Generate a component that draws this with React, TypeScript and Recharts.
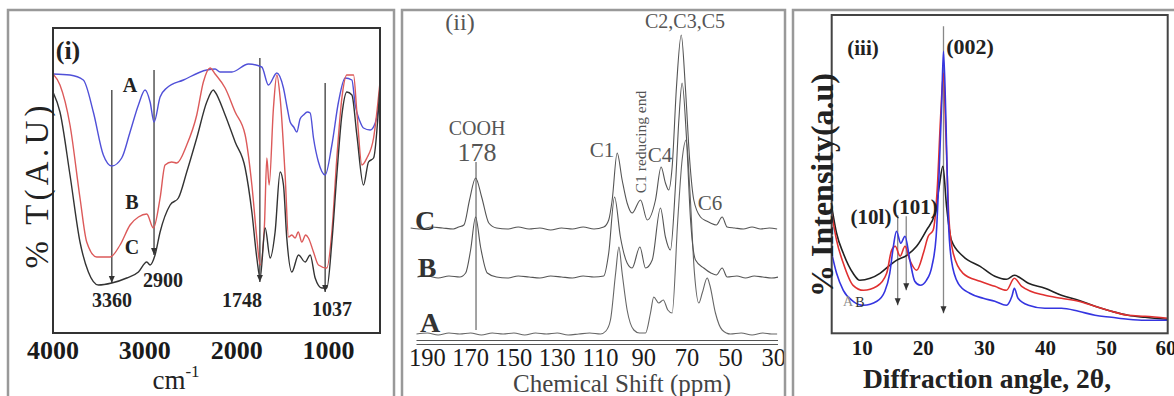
import React from 'react';
import { LineChart, Line, XAxis, YAxis, ReferenceLine, ReferenceDot } from 'recharts';

// ---------- Panel (i) FTIR: [wavenumber cm-1, transmittance a.u.] ----------
const FTIR_A: [number, number][] = [
  [4000, 259], [3815, 258], [3670, 253], [3561, 221], [3452, 178], [3360, 167], [3252, 175],
  [3161, 201], [3070, 228], [2998, 243], [2943, 231], [2900, 211], [2834, 236], [2762, 245],
  [2580, 253], [2326, 263], [2235, 264], [2181, 261], [2053, 261], [1872, 269], [1727, 266],
  [1655, 248], [1563, 260], [1491, 245], [1450, 225], [1418, 211], [1380, 206], [1345, 201],
  [1310, 214], [1273, 218], [1230, 221], [1200, 220], [1164, 195], [1110, 171], [1037, 158],
  [964, 188], [892, 231], [819, 255], [746, 253], [710, 228], [660, 212], [620, 205],
  [547, 203], [492, 210], [440, 231],
];
const FTIR_B: [number, number][] = [
  [4000, 259], [3924, 248], [3815, 208], [3706, 135], [3633, 91], [3524, 76], [3379, 76],
  [3270, 88], [3161, 108], [3070, 116], [2979, 119], [2907, 105], [2834, 135], [2780, 168],
  [2707, 171], [2652, 170], [2544, 188], [2435, 218], [2363, 251], [2290, 265], [2235, 259],
  [2126, 245], [2017, 221], [1908, 198], [1835, 148], [1781, 95], [1745, 68], [1698, 108],
  [1672, 175], [1647, 148], [1600, 225], [1563, 258], [1527, 235], [1473, 158], [1436, 96],
  [1400, 98], [1364, 95], [1330, 101], [1291, 91], [1250, 98], [1219, 95], [1164, 81],
  [1110, 68], [1019, 65], [964, 101], [910, 175], [855, 235], [801, 258], [728, 258],
  [692, 221], [637, 168], [583, 175], [510, 195], [440, 251],
];
const FTIR_C: [number, number][] = [
  [4000, 241], [3924, 221], [3815, 158], [3706, 91], [3615, 61], [3506, 48], [3360, 50],
  [3197, 55], [3070, 61], [2979, 71], [2943, 68], [2889, 78], [2834, 101], [2725, 128],
  [2635, 135], [2544, 161], [2435, 195], [2326, 231], [2254, 243], [2235, 241], [2126, 218],
  [2017, 191], [1908, 165], [1835, 121], [1781, 75], [1745, 55], [1690, 105], [1636, 75],
  [1582, 101], [1527, 161], [1491, 148], [1455, 95], [1400, 61], [1327, 78], [1255, 71],
  [1200, 78], [1146, 55], [1073, 45], [1019, 45], [964, 91], [910, 158], [855, 218],
  [801, 241], [746, 238], [692, 198], [620, 148], [565, 171], [510, 175], [440, 248],
];
const FTIR_TICKS = [4000, 3000, 2000, 1000];
const FTIR_MARKS: [number, number, number][] = [
  [3360, 243, 50], [2900, 263, 78], [1748, 275, 51], [1037, 250, 41],
];

// ---------- Panel (ii) 13C NMR: [ppm, intensity a.u.] ----------
const NMR_C: [number, number][] = [
  [197.7, 115], [193, 114], [188, 116], [183, 115], [178, 114], [175.5, 116], [173.1, 118],
  [170.5, 143], [167.7, 165], [164.9, 146], [161.6, 120], [158, 115], [153, 114], [148, 116],
  [143, 114], [138, 115], [133, 113], [128, 115], [123, 114], [118, 116], [113, 114],
  [108.5, 116], [106.2, 123], [104.6, 143], [102.3, 190], [100, 163], [97.7, 140], [95.4, 130],
  [91.5, 143], [88.4, 123], [84.6, 143], [82, 176], [80, 160], [78.5, 153], [76.9, 176],
  [74.9, 256], [72.7, 308], [70.8, 256], [68.8, 183], [66.9, 143], [63.8, 126], [61, 122],
  [59.2, 120], [56.5, 118], [53.8, 126], [51.5, 116], [48, 115], [44, 114], [40, 116],
  [36, 114], [32, 115], [28.4, 114],
];
const NMR_B: [number, number][] = [
  [194.6, 66], [190, 67], [185, 65], [180, 67], [175, 66], [172.3, 70], [170, 93], [167.7, 126],
  [165.4, 96], [162.3, 70], [158, 66], [153, 65], [148, 67], [143, 66], [138, 65], [133, 67],
  [128, 66], [123, 65], [118, 67], [113, 66], [108.5, 67], [106.2, 90], [103.5, 146],
  [100.8, 106], [97.7, 80], [95.4, 75], [91.8, 96], [89.2, 75], [86.1, 83], [82.3, 135],
  [80, 106], [77.7, 93], [75.4, 156], [73.8, 223], [72.3, 260], [70.3, 206], [68.4, 123],
  [66.1, 83], [62.3, 75], [59, 70], [56.5, 68], [53.8, 75], [51.5, 66], [47, 67], [43, 65],
  [39, 67], [35, 66], [31, 65], [27.8, 66],
];
const NMR_A: [number, number][] = [
  [195, 9], [190, 10], [185, 8], [180, 10], [175, 9], [170, 10], [165, 8], [160, 10], [155, 9],
  [150, 10], [145, 8], [140, 10], [135, 9], [130, 10], [125, 8], [120, 9], [115, 10], [110, 9],
  [107.5, 12], [105.4, 23], [103, 70], [101.5, 96], [100, 70], [97.7, 33], [94.6, 13],
  [92, 10], [89.2, 10], [86.9, 30], [85.4, 46], [83.1, 40], [81, 43], [78.9, 33], [76.9, 30],
  [74.3, 123], [72.3, 183], [70.4, 203], [68.8, 156], [66.6, 70], [64.6, 40], [63, 50],
  [60.7, 65], [59.5, 58], [56.9, 30], [53.8, 13], [50, 9], [45, 10], [40, 8], [35, 10],
  [31, 9], [28.4, 9],
];
const NMR_TICKS = [190, 170, 150, 130, 110, 90, 70, 50, 30];

// ---------- Panel (iii) XRD: [2theta, intensity a.u.] ----------
const XRD_A: [number, number][] = [
  [5, 80], [5.8, 60], [6.9, 43], [8.5, 32], [10.2, 28], [12.4, 32], [13.7, 42], [14.5, 60],
  [15.1, 87], [15.6, 102], [16.3, 90], [17, 97], [17.8, 73], [18.6, 52], [19.5, 48], [20.5, 53],
  [21.4, 67], [22.1, 97], [22.6, 163], [23, 230], [23.3, 282], [23.7, 213], [24.1, 113],
  [24.6, 73], [25.7, 50], [27.6, 40], [29.8, 35], [31.7, 32], [33.6, 28], [34.5, 37],
  [34.9, 45], [35.5, 35], [37.2, 28], [39.9, 25], [42.6, 25], [45.4, 22], [48.1, 18],
  [50.8, 16], [53.5, 14], [56.3, 13], [60, 13],
];
const XRD_B: [number, number][] = [
  [5, 120], [5.8, 93], [6.9, 70], [8.5, 48], [10.2, 43], [12.4, 47], [14, 60], [14.8, 83],
  [15.4, 87], [16.2, 77], [17, 87], [17.8, 73], [18.9, 63], [20, 80], [20.8, 97], [21.6, 103],
  [22.3, 147], [22.8, 213], [23.3, 260], [23.7, 197], [24.2, 113], [24.9, 80], [26.5, 60],
  [29.3, 52], [31.7, 47], [33.6, 43], [34.9, 55], [36.1, 47], [39.9, 38], [42.6, 35],
  [45.4, 32], [48.1, 27], [50.8, 22], [53.5, 18], [56.3, 17], [60, 15],
];
const XRD_C: [number, number][] = [
  [5, 127], [5.8, 100], [6.9, 80], [8.5, 60], [9.6, 53], [11.3, 55], [12.9, 60], [14.5, 68],
  [15.6, 73], [17.3, 78], [18.9, 87], [20.5, 103], [21.9, 120], [22.6, 147], [23.2, 167],
  [23.8, 127], [24.6, 93], [26.5, 77], [29.3, 67], [31.7, 57], [33.6, 54], [34.9, 58],
  [37.2, 50], [39.9, 45], [42.6, 38], [45.4, 33], [48.1, 27], [50.8, 22], [53.5, 18],
  [56.3, 16], [60, 14],
];
const XRD_TICKS = [10, 20, 30, 40, 50, 60];
const XRD_MARKS: [number, number, number][] = [[23.3, 307, 20], [15.8, 118, 28], [17.2, 117, 43]];

const toPts = (arr: [number, number][]) => arr.map(([x, y]) => ({ x, y }));
const SERIF = "'Liberation Serif', 'Times New Roman', serif";

const Arrow = (p: any) => (
  <polygon
    points={`${p.cx - 3},${p.cy - 7} ${p.cx + 3},${p.cy - 7} ${p.cx},${p.cy}`}
    fill="#333"
  />
);

const makeTick = (y: number, size: number, bold: boolean, color: string) => (props: any) => (
  <text
    x={props.x}
    y={y}
    textAnchor="middle"
    dominantBaseline="central"
    style={{ fontFamily: SERIF }}
    fontWeight={bold ? 'bold' : 'normal'}
    fontSize={size}
    fill={color}
  >
    {props.payload.value}
  </text>
);

const T = (p: any) => {
  const { x, y, size, bold, color, rotate, children, ...rest } = p;
  return (
    <text
      x={x}
      y={y}
      textAnchor="middle"
      dominantBaseline="central"
      style={{ fontFamily: SERIF }}
      fontWeight={bold ? 'bold' : 'normal'}
      fontSize={size}
      fill={color || '#222'}
      transform={rotate ? `rotate(${rotate} ${x} ${y})` : undefined}
      {...rest}
    >
      {children}
    </text>
  );
};

export default function App() {
  return (
    <div style={{ position: 'absolute', left: 0, top: 0, width: 1174, height: 396, background: '#fff', overflow: 'hidden' }}>
      {/* Panel i */}
      <div style={{ position: 'absolute', left: 0, top: 0 }}>
        <LineChart width={392} height={396} margin={{ left: 53, right: 12, top: 28, bottom: 62 }}>
          <XAxis type="number" dataKey="x" domain={[440, 4000]} reversed allowDataOverflow
            ticks={FTIR_TICKS} axisLine={false} tickLine={false} height={1}
            tick={makeTick(350, 26, true, '#1a1a1a')} />
          <YAxis type="number" dataKey="y" domain={[0, 305]} hide allowDataOverflow />
          {FTIR_MARKS.map(([x, y1, y2]) => (
            <ReferenceLine key={'m' + x} segment={[{ x, y: y1 }, { x, y: y2 }]} stroke="#555" strokeWidth={1.5} ifOverflow="visible" />
          ))}
          {FTIR_MARKS.map(([x, , y2]) => (
            <ReferenceDot key={'d' + x} x={x} y={y2} r={3} shape={Arrow} ifOverflow="visible" />
          ))}
          <Line data={toPts(FTIR_A)} dataKey="y" type="monotone" stroke="#5050d8" strokeWidth={1.4} dot={false} isAnimationActive={false} />
          <Line data={toPts(FTIR_B)} dataKey="y" type="monotone" stroke="#dc5a5a" strokeWidth={1.4} dot={false} isAnimationActive={false} />
          <Line data={toPts(FTIR_C)} dataKey="y" type="monotone" stroke="#333" strokeWidth={1.4} dot={false} isAnimationActive={false} />
        </LineChart>
      </div>

      {/* Panel ii */}
      <div style={{ position: 'absolute', left: 402, top: 0 }}>
        <LineChart width={383} height={396} margin={{ left: 8, right: 7, top: 20, bottom: 47 }}>
          <XAxis type="number" dataKey="x" domain={[28, 198]} reversed allowDataOverflow
            ticks={NMR_TICKS} axisLine={false} tickLine={false} height={1}
            tick={makeTick(357, 24.5, false, '#1a1a1a')} />
          <YAxis type="number" dataKey="y" domain={[-5, 323]} hide allowDataOverflow />
          <ReferenceLine segment={[{ x: 195, y: 2.5 }, { x: 28, y: 2.5 }]} stroke="#555" strokeWidth={1.2} ifOverflow="visible" />
          <ReferenceLine segment={[{ x: 195, y: -1.5 }, { x: 28, y: -1.5 }]} stroke="#555" strokeWidth={1.2} ifOverflow="visible" />
          <ReferenceLine segment={[{ x: 167.5, y: 181 }, { x: 167.5, y: 13 }]} stroke="#666" strokeWidth={1.2} ifOverflow="visible" />
          <Line data={toPts(NMR_A)} dataKey="y" type="monotone" stroke="#666" strokeWidth={1.1} dot={false} isAnimationActive={false} />
          <Line data={toPts(NMR_B)} dataKey="y" type="monotone" stroke="#555" strokeWidth={1.1} dot={false} isAnimationActive={false} />
          <Line data={toPts(NMR_C)} dataKey="y" type="monotone" stroke="#555" strokeWidth={1.1} dot={false} isAnimationActive={false} />
        </LineChart>
      </div>

      {/* Panel iii */}
      <div style={{ position: 'absolute', left: 793, top: 0 }}>
        <LineChart width={381} height={396} margin={{ left: 38.7, right: 6.3, top: 15, bottom: 61.7 }}>
          <XAxis type="number" dataKey="x" domain={[5, 60]} allowDataOverflow
            ticks={XRD_TICKS} axisLine={false} tickLine={false} height={1}
            tick={makeTick(348, 21, true, '#1a1a1a')} />
          <YAxis type="number" dataKey="y" domain={[0, 318.3]} hide allowDataOverflow />
          {XRD_MARKS.map(([x, y1, y2]) => (
            <ReferenceLine key={'m' + x} segment={[{ x, y: y1 }, { x, y: y2 }]} stroke="#888" strokeWidth={1.3} ifOverflow="visible" />
          ))}
          {XRD_MARKS.map(([x, , y2]) => (
            <ReferenceDot key={'d' + x} x={x} y={y2} r={3} shape={Arrow} ifOverflow="visible" />
          ))}
          <Line data={toPts(XRD_C)} dataKey="y" type="monotone" stroke="#222" strokeWidth={1.6} dot={false} isAnimationActive={false} />
          <Line data={toPts(XRD_B)} dataKey="y" type="monotone" stroke="#e03030" strokeWidth={1.6} dot={false} isAnimationActive={false} />
          <Line data={toPts(XRD_A)} dataKey="y" type="monotone" stroke="#3535e0" strokeWidth={1.6} dot={false} isAnimationActive={false} />
        </LineChart>
      </div>

      {/* Frames and annotations */}
      <svg width={1174} height={396} style={{ position: 'absolute', left: 0, top: 0, pointerEvents: 'none' }}>
        <rect x={8} y={10} width={386} height={400} fill="none" stroke="#999" strokeWidth={2.5} />
        <rect x={402} y={10} width={383} height={400} fill="none" stroke="#999" strokeWidth={2.5} />
        <rect x={793} y={10} width={400} height={400} fill="none" stroke="#999" strokeWidth={2.5} />
        <rect x={53} y={28} width={327} height={305} fill="none" stroke="#333" strokeWidth={2} />
        <rect x={831.7} y={15} width={336} height={318.3} fill="none" stroke="#444" strokeWidth={2} />

        {/* panel i texts */}
        <T x={68} y={50} size={26} bold>(i)</T>
        <T x={130} y={85} size={20} bold>A</T>
        <T x={132} y={202} size={20} bold>B</T>
        <T x={132} y={247} size={20} bold>C</T>
        <T x={112} y={300} size={20} bold>3360</T>
        <T x={163} y={280} size={20} bold>2900</T>
        <T x={242} y={300} size={20} bold>1748</T>
        <T x={332} y={309} size={20} bold>1037</T>
        <T x={37} y={187} size={33} rotate={-90} textLength={163} lengthAdjust="spacing">% T(A.U)</T>
        <text x={176} y={389} textAnchor="middle" style={{ fontFamily: SERIF }} fontSize={27} fill="#222">
          cm<tspan dy={-12} fontSize={17}>-1</tspan>
        </text>

        {/* panel ii texts */}
        <T x={460} y={22} size={24} color="#555">(ii)</T>
        <T x={477} y={128} size={20} color="#555">COOH</T>
        <T x={477} y={152} size={26} color="#555">178</T>
        <T x={602} y={150} size={21} color="#555">C1</T>
        <T x={640} y={142} size={15.5} color="#555" rotate={-90}>C1 reducing end</T>
        <T x={660} y={155} size={21} color="#555">C4</T>
        <T x={685} y={21} size={20} color="#555">C2,C3,C5</T>
        <T x={710} y={203} size={21} color="#555">C6</T>
        <T x={425} y={220} size={28} bold color="#333">C</T>
        <T x={427} y={267} size={28} bold color="#333">B</T>
        <T x={430} y={322} size={28} bold color="#333">A</T>
        <T x={622} y={383} size={25} color="#444">Chemical Shift (ppm)</T>

        {/* panel iii texts */}
        <T x={863} y={48} size={21} bold>(iii)</T>
        <T x={970} y={46} size={22} bold>(002)</T>
        <T x={871} y={217} size={21} bold>(10l)</T>
        <T x={915} y={207} size={21} bold>(101)</T>
        <T x={848} y={301} size={14} color="#888">A</T>
        <T x={860} y={302} size={14} color="#333">B</T>
        <T x={822} y={185} size={32} bold rotate={-90}>% Intensity(a.u)</T>
        <T x={987} y={378} size={27.5} bold>Diffraction angle, 2θ,</T>
      </svg>
    </div>
  );
}
